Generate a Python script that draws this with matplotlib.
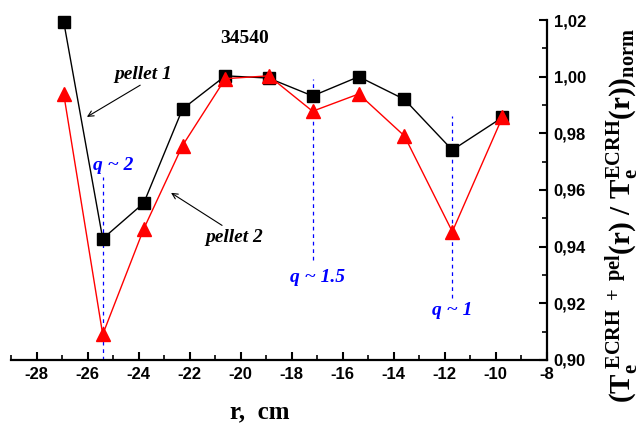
import matplotlib
matplotlib.use('Agg')
import matplotlib.pyplot as plt
from matplotlib.ticker import MultipleLocator, FuncFormatter

plt.rcParams['font.family'] = 'Liberation Sans'
plt.rcParams['font.weight'] = 'bold'
plt.rcParams['axes.unicode_minus'] = False
plt.rcParams['mathtext.fontset'] = 'custom'
plt.rcParams['mathtext.rm'] = 'Liberation Serif:bold'
plt.rcParams['mathtext.bf'] = 'Liberation Serif:bold'
plt.rcParams['mathtext.it'] = 'Liberation Serif:bold:italic'

# radius positions (cm) and normalised temperature ratios
r = [-26.94, -25.41, -23.8, -22.28, -20.6, -18.9, -17.18, -15.37, -13.58, -11.7, -9.74]
pellet1 = [1.0194, 0.9428, 0.9554, 0.9886, 1.0003, 0.9995, 0.9932, 1.0000, 0.9920, 0.9741, 0.9856]
pellet2 = [0.9939, 0.9090, 0.9463, 0.9757, 0.9993, 1.0003, 0.9878, 0.9939, 0.9791, 0.9453, 0.9856]

# q-surfaces: x position, dashed line span, label
q_x = [-25.41, -17.18, -11.7]
q_span = [(0.9, 0.9646), (0.9353, 0.9992), (0.9218, 0.9862)]
q_labels = ['q ~ 2', 'q ~ 1.5', 'q ~ 1']
q_text_pos = [(-25.0, 0.9688), (-17.0, 0.929), (-11.69, 0.9176)]

fig = plt.figure(figsize=(6.39, 4.26), dpi=100)
ax = fig.add_axes([0.0175, 0.155, 0.838, 0.798])

for x, (y0, y1) in zip(q_x, q_span):
    ax.plot([x, x], [y0, y1], color='blue', ls=(0, (3, 3)), lw=0.9, zorder=1)

ax.plot(r, pellet1, color='black', lw=1, marker='s', ms=8.5, mfc='black', mec='black',
        clip_on=False, zorder=3)
ax.plot(r, pellet2, color='red', lw=1, marker='^', ms=10, mfc='red', mec='red',
        clip_on=False, zorder=3)

serif = dict(family='Liberation Serif', fontweight='bold')
for (tx, ty), lab in zip(q_text_pos, q_labels):
    ax.text(tx, ty, lab, color='blue', fontsize=14, fontstyle='italic',
            ha='center', va='center', **serif)

ax.text(-19.86, 1.0136, '34540', fontsize=14, ha='center', va='center', **serif)

ax.text(-23.83, 1.0006, 'pellet 1', fontsize=14, fontstyle='italic',
        ha='center', va='center', **serif)
ax.annotate('', xy=(-26.03, 0.9858), xytext=(-23.94, 0.997),
            arrowprops=dict(arrowstyle='->', color='black', lw=0.8, shrinkA=0, shrinkB=0))
ax.text(-20.26, 0.9434, 'pellet 2', fontsize=14, fontstyle='italic',
        ha='center', va='center', **serif)
ax.annotate('', xy=(-22.73, 0.959), xytext=(-20.73, 0.9475),
            arrowprops=dict(arrowstyle='->', color='black', lw=0.8, shrinkA=0, shrinkB=0))

ax.set_xlim(-29, -8)
ax.set_ylim(0.90, 1.02)
ax.xaxis.set_major_locator(MultipleLocator(2))
ax.xaxis.set_minor_locator(MultipleLocator(1))
ax.yaxis.set_major_locator(MultipleLocator(0.02))
ax.yaxis.set_minor_locator(MultipleLocator(0.01))
ax.yaxis.set_major_formatter(FuncFormatter(lambda v, p: f'{v:.2f}'.replace('.', ',')))
ax.yaxis.tick_right()

for side in ['top', 'left']:
    ax.spines[side].set_visible(False)
for side in ['bottom', 'right']:
    ax.spines[side].set_linewidth(1.6)

ax.tick_params(which='major', direction='in', length=6, width=1.5, labelsize=12, pad=5)
ax.tick_params(which='minor', direction='in', length=3.5, width=1.2)

ax.set_xlabel('r,  cm', fontsize=18, **serif)
ax.xaxis.set_label_coords(0.465, -0.12)
fig.text(0.972, 0.495, r'$\mathbf{(T_e^{\ ECRH\ +\ pel}(r)\ /\ T_e^{ECRH}(r))_{norm}}$',
         fontsize=21, rotation=90, ha='center', va='center')

fig.savefig('out.png', dpi=100)
